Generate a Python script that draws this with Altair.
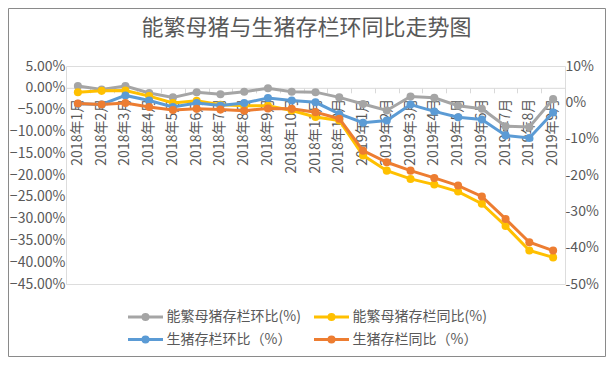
import altair as alt
import pandas as pd

months = ["2018年1月", "2018年2月", "2018年3月", "2018年4月", "2018年5月", "2018年6月",
          "2018年7月", "2018年8月", "2018年9月", "2018年10月", "2018年11月", "2018年12月",
          "2019年1月", "2019年2月", "2019年3月", "2019年4月", "2019年5月", "2019年6月",
          "2019年7月", "2019年8月", "2019年9月"]

series_names = ["能繁母猪存栏环比(%)", "能繁母猪存栏同比(%)", "生猪存栏环比（%）", "生猪存栏同比（%）"]
series_colors = ["#A5A5A5", "#FFC000", "#5B9BD5", "#ED7D31"]

chart_title = "能繁母猪与生猪存栏环同比走势图"

# left axis (percent)
sow_mom = [0.4, -0.4, 0.4, -1.2, -2.2, -1.0, -1.5, -0.9, -0.1, -0.9, -1.0, -2.2,
           -3.7, -5.2, -2.0, -2.3, -4.1, -4.8, -8.8, -9.0, -2.6]
sow_yoy = [-1.0, -0.7, -0.6, -1.9, -3.5, -3.0, -3.9, -4.1, -4.1, -5.2, -6.7, -7.5,
           -15.5, -19.0, -20.9, -22.2, -23.8, -26.6, -31.7, -37.3, -38.9]
# right axis (percent)
hog_mom = [-0.4, -0.6, 1.9, 0.5, -1.3, -0.2, -0.9, -0.2, 1.2, 0.5, 0.0, -3.2,
           -5.6, -5.0, -0.6, -2.5, -4.1, -4.7, -9.1, -9.8, -2.8]
hog_yoy = [-0.3, -0.6, -0.2, -1.3, -2.1, -1.8, -2.0, -2.3, -1.7, -1.8, -2.7, -4.5,
           -13.3, -16.5, -18.8, -20.8, -22.9, -25.9, -32.1, -38.5, -40.8]

left_ticks = [5, 0, -5, -10, -15, -20, -25, -30, -35, -40, -45]
right_ticks = [10, 0, -10, -20, -30, -40, -50]
category_axis_at = 0  # the category axis crosses the left axis at 0%


def frame(names, arrays):
    rows = []
    for n, arr in zip(names, arrays):
        for m, v in zip(months, arr):
            rows.append({"month": m, "series": n, "value": v})
    return pd.DataFrame(rows)


left_df = frame(series_names[:2], [sow_mom, sow_yoy])
right_df = frame(series_names[2:], [hog_mom, hog_yoy])
label_df = pd.DataFrame({"month": months, "value": [category_axis_at] * len(months)})

W, H = 499, 218
FONT = "Noto Sans CJK SC"
TXT = "#595959"

# legend symbol: line with a dot (custom path, unit = 7px)
r = 0.36
k = 0.5523 * r
dot = (f"M{r},0C{r},{k} {k},{r} 0,{r}C{-k},{r} {-r},{k} {-r},0"
       f"C{-r},{-k} {-k},{-r} 0,{-r}C{k},{-r} {r},{-k} {r},0Z")
sym_path = "M-2.5,0L2.5,0" + dot

color = alt.Color(
    "series:N",
    scale=alt.Scale(domain=series_names, range=series_colors),
    legend=alt.Legend(
        title=None, orient="none", legendX=71, legendY=242, columns=2,
        direction="horizontal", columnPadding=7, rowPadding=4,
        symbolType=sym_path, symbolSize=196,
        symbolStrokeWidth=3, labelOffset=12.5, labelFont=FONT, labelFontSize=14,
        labelColor=TXT, padding=0, labelLimit=300, symbolOpacity=1,
    ),
)

x = alt.X(
    "month:N", sort=months, title=None,
    scale=alt.Scale(type="band", paddingInner=0, paddingOuter=0),
    axis=alt.Axis(orient="bottom", offset=-(H - H * 5 / 50), labels=False,
                  domainColor="#D9D9D9", domainWidth=1, tickColor="#D9D9D9", tickSize=5,
                  tickBand="extent", grid=False),
)

left_scale = alt.Scale(domain=[-45, 5], nice=False, zero=False)
y_left = alt.Y(
    "value:Q", title=None, scale=left_scale,
    axis=alt.Axis(orient="left", values=left_ticks, labelExpr="format(datum.value/100, '.2%')",
                  domain=False, ticks=False, grid=False, labelFont=FONT, labelFontSize=14,
                  labelColor=TXT, labelPadding=1),
)
y_right = alt.Y(
    "value:Q", title=None,
    scale=alt.Scale(domain=[-50, 10], nice=False, zero=False),
    axis=alt.Axis(orient="right", values=right_ticks, labelExpr="datum.value + '%'",
                  domain=False, ticks=False, grid=False, labelFont=FONT, labelFontSize=14,
                  labelColor=TXT, labelPadding=0),
)

left_base = alt.Chart(left_df).encode(x=x, y=y_left, color=color, detail="series:N")
right_base = alt.Chart(right_df).encode(x=x, y=y_right, color=color, detail="series:N")

month_labels = alt.Chart(label_df).mark_text(
    angle=270, align="right", baseline="middle", dx=-11,
    font=FONT, fontSize=14, color=TXT,
).encode(x=x, y=y_left, text="month:N")

left = alt.layer(
    month_labels,
    left_base.mark_line(strokeWidth=3),
    left_base.mark_point(filled=True, size=65, opacity=1),
)
right = alt.layer(
    right_base.mark_line(strokeWidth=3),
    right_base.mark_point(filled=True, size=65, opacity=1),
)

deco = alt.Data(values=[{"t": chart_title}])
border = alt.Chart(deco).mark_rect(
    fill=None, stroke="#8A8A8A", strokeWidth=1
).encode(x=alt.value(-57.5), x2=alt.value(539.5), y=alt.value(-57.5), y2=alt.value(290.5))
title = alt.Chart(deco).mark_text(
    font=FONT, fontSize=22, color=TXT, align="center", baseline="middle"
).encode(text="t:N", x=alt.value(240.5), y=alt.value(-38))

chart = alt.layer(left, right, border, title).resolve_scale(y="independent").properties(
    width=W, height=H,
    autosize=alt.AutoSizeParams(type="none"),
    padding={"left": 58, "top": 58, "right": 41, "bottom": 73},
).configure_view(stroke=None).configure(background="white")

chart.save("out.html", embed_options={"renderer": "svg", "actions": False})
